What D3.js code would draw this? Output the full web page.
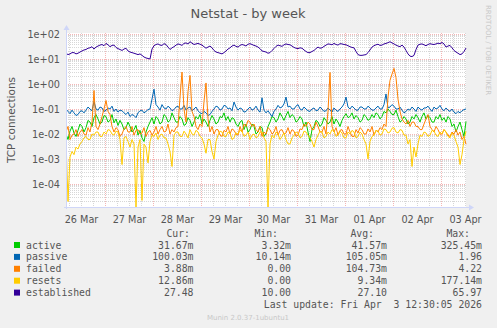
<!DOCTYPE html>
<html>
<head>
<meta charset="utf-8">
<script src="https://cdn.jsdelivr.net/npm/d3@7"></script>
<style>
  html, body { margin: 0; padding: 0; background: #f0f0f0; }
  svg { display: block; }
</style>
</head>
<body>
<svg id="chart" width="497" height="328"></svg>
<script>
// Netstat counters, one sample per hour over the week (per second rates)
const seriesNames  = ["active", "passive", "failed", "resets", "established"];
const seriesColors = ["#00cc00", "#0066b3", "#ff8000", "#ffcc00", "#330099"];

const active = [
  0.01,0.006,0.013,0.02,0.011,0.008,0.014,0.025,0.02,0.012,0.018,0.035,0.03,0.02,0.045,0.06,0.04,0.025,0.03,0.055,
  0.05,0.03,0.035,0.06,0.028,0.04,0.022,0.035,0.025,0.015,0.018,0.03,0.02,0.012,0.015,0.022,0.009,0.014,0.007,0.005,
  0.012,0.02,0.03,0.045,0.025,0.05,0.04,0.025,0.03,0.06,0.05,0.03,0.035,0.07,0.045,0.03,0.03,0.05,0.04,0.022,
  0.025,0.045,0.035,0.02,0.03,0.05,0.04,0.06,0.025,0.04,0.03,0.02,0.035,0.055,0.04,0.025,0.03,0.05,0.045,0.07,
  0.035,0.05,0.03,0.045,0.04,0.025,0.02,0.03,0.035,0.015,0.025,0.012,0.015,0.025,0.02,0.01,0.012,0.02,0.018,0.008,
  0.01,0.02,0.03,0.05,0.045,0.03,0.04,0.07,0.05,0.035,0.055,0.08,0.045,0.06,0.05,0.03,0.035,0.05,0.04,0.02,
  0.03,0.012,0.005,0.015,0.02,0.035,0.03,0.02,0.025,0.045,0.035,0.025,0.03,0.05,0.025,0.04,0.03,0.02,0.035,0.05,
  0.065,0.045,0.05,0.07,0.04,0.055,0.045,0.03,0.035,0.06,0.05,0.035,0.04,0.06,0.045,0.07,0.06,0.04,0.05,0.08,
  0.07,0.1,0.08,0.06,0.06,0.09,0.05,0.03,0.035,0.05,0.04,0.025,0.03,0.05,0.04,0.06,0.045,0.03,0.05,0.07,
  0.04,0.055,0.045,0.03,0.03,0.05,0.04,0.06,0.035,0.045,0.03,0.05,0.04,0.02,0.025,0.012,0.02,0.03,0.015,0.008,
  0.03167];

const passive = [
  0.1,0.08,0.065,0.09,0.07,0.055,0.06,0.08,0.085,0.07,0.09,0.12,0.1,0.085,0.2,0.1,0.09,0.12,0.11,0.08,
  0.09,0.11,0.1,0.13,0.08,0.1,0.075,0.09,0.085,0.07,0.06,0.075,0.05,0.06,0.055,0.045,0.07,0.085,0.09,0.07,
  0.08,0.095,0.1,0.25,0.62,0.15,0.12,0.09,0.15,0.11,0.1,0.13,0.11,0.085,0.095,0.12,0.13,0.1,0.1,0.14,
  0.09,0.11,0.12,0.085,0.1,0.12,0.085,0.07,0.065,0.08,0.07,0.055,0.06,0.08,0.1,0.13,0.12,0.09,0.1,0.14,
  0.13,0.1,0.11,0.085,0.19,0.12,0.09,0.11,0.1,0.075,0.08,0.1,0.12,0.09,0.1,0.13,0.09,0.075,0.28,0.09,
  0.07,0.085,0.065,0.05,0.08,0.1,0.14,0.11,0.12,0.16,0.3,0.12,0.13,0.1,0.1,0.13,0.15,0.1,0.09,0.12,
  0.1,0.085,0.08,0.1,0.11,0.085,0.09,0.12,0.1,0.08,0.085,0.11,0.09,0.075,0.11,0.09,0.08,0.1,0.12,0.16,
  0.3,0.12,0.1,0.13,0.11,0.09,0.09,0.12,0.12,0.1,0.1,0.13,0.11,0.09,0.09,0.11,0.13,0.1,0.1,0.15,
  0.4,0.11,0.12,0.15,0.13,0.1,0.1,0.12,0.09,0.07,0.08,0.1,0.09,0.12,0.1,0.08,0.12,0.1,0.09,0.11,
  0.11,0.13,0.1,0.08,0.12,0.1,0.11,0.14,0.1,0.085,0.11,0.09,0.08,0.1,0.075,0.065,0.08,0.07,0.085,0.095,
  0.10003];

const failed = [
  0.012,0.02,0.006,0.009,0.01,0.015,0.008,0.012,0.015,0.01,0.009,0.018,0.012,0.03,0.55,0.02,0.015,0.025,0.05,0.1,
  0.22,0.08,0.06,0.02,0.012,0.018,0.015,0.008,0.01,0.016,0.02,0.012,0.012,0.02,0.009,0.014,0.015,0.01,0.011,0.018,
  0.008,0.012,0.014,0.009,0.012,0.02,0.01,0.015,0.02,0.012,0.013,0.025,0.01,0.015,0.012,0.018,0.02,0.3,3.0,0.1,
  0.03,0.5,2.2,0.08,0.05,0.02,0.015,0.025,0.02,0.2,1.1,0.04,0.012,0.02,0.01,0.015,0.015,0.009,0.008,0.014,
  0.012,0.02,0.01,0.016,0.014,0.01,0.009,0.02,0.012,0.025,0.02,0.035,0.03,0.02,0.025,0.015,0.012,0.02,0.008,0.012,
  0.01,0.018,0.015,0.01,0.012,0.02,0.009,0.014,0.015,0.01,0.011,0.018,0.01,0.015,0.013,0.008,0.009,0.016,0.015,0.025,
  0.02,0.03,0.025,0.015,0.015,0.03,0.02,0.012,0.012,0.02,0.01,0.08,2.9,0.02,0.012,0.018,0.009,0.014,0.015,0.01,
  0.01,0.02,0.012,0.008,0.008,0.015,0.011,0.018,0.015,0.01,0.01,0.016,0.012,0.02,0.009,0.014,0.012,0.018,0.015,0.025,
  0.02,0.3,1.4,2.5,4.22,1.8,0.25,0.08,0.04,0.03,0.025,0.035,0.02,0.03,0.03,0.02,0.02,0.015,0.015,0.025,
  0.04,0.06,0.02,0.015,0.012,0.02,0.015,0.01,0.01,0.015,0.012,0.009,0.008,0.012,0.01,0.015,0.009,0.012,0.006,0.008,
  0.00388];

const resets = [
  0.006,0.00002,0.0012,0.002,0.0015,0.003,0.0025,0.004,0.005,0.007,0.008,0.006,0.006,0.01,0.009,0.012,0.012,0.008,0.008,0.012,
  0.01,0.015,0.014,0.01,0.009,0.013,0.012,0.006,0.0006,0.007,0.008,0.005,0.003,0.006,0.004,0,0.003,0.006,0.000022,0.004,
  0.003,0.0007,0.005,0.009,0.008,0.011,0.006,0.009,0.01,0.007,0.007,0.004,0.002,0.0005,0.009,0.012,0.012,0.008,0.008,0.013,
  0.01,0.007,0.015,0.01,0.009,0.014,0.012,0.008,0.007,0.004,0.0017,0.006,0.006,0.002,0.001,0.005,0.009,0.013,0.012,0.008,
  0.008,0.012,0.011,0.006,0.007,0.011,0.01,0.014,0.013,0.008,0.009,0.012,0.006,0.009,0.01,0.007,0.008,0.012,0.012,0.007,
  0.005,0,0.004,0.009,0.007,0.012,0.01,0.006,0.008,0.011,0.006,0.004,0.004,0.007,0.009,0.012,0.011,0.007,0.008,0.013,
  0.012,0.009,0.007,0.005,0.003,0.006,0.009,0.013,0.012,0.007,0.008,0.012,0.01,0.015,0.013,0.008,0.009,0.013,0.011,0.007,
  0.007,0.012,0.01,0.014,0.012,0.007,0.008,0.012,0.01,0.006,0.004,0.001,0.005,0.008,0.009,0.014,0.013,0.009,0.01,0.016,
  0.015,0.011,0.012,0.017,0.018,0.012,0.011,0.015,0.014,0.009,0.009,0.004,0.006,0.0005,0.003,0.0012,0.004,0.009,0.008,0.012,
  0.011,0.008,0.009,0.014,0.013,0.009,0.008,0.012,0.01,0.015,0.012,0.008,0.007,0.011,0.009,0.005,0.003,0.0006,0.0015,0.006,
  0.01286];

const established = [
  17,15,16,18,18,16,17,19,21,23,24,27,28,31,25,30,33,36,38,34,
  42,37,31,35,36,29,26,24,22,25,27,21,19,18,17,16,15,16,14,12,
  11,10.5,10,25,34,38,40,36,35,41,38,30,24,28,31,36,40,38,35,42,
  44,40,49,43,38,40,42,39,36,31,27,30,33,28,22,19,18,17,16,18,
  21,25,28,33,36,32,30,35,38,36,33,39,41,38,35,33,30,26,21,20,
  19,17,18,22,26,32,36,34,32,37,40,38,37,33,29,27,26,28,27,23,
  20,18,18,20,22,26,30,27,28,32,36,40,39,37,42,38,36,41,40,38,
  37,34,31,29,28,20,15,14,14,14.5,15,18,23,30,34,37,39,35,36,40,
  42,45,49,44,40,36,33,31,36,30,22,16,13,12.5,14,24,36,39,40,37,
  34,38,41,39,38,40,43,41,46,40,30,33,35,28,22,19,17,15,16,20,
  27.48];

const yTickValues = [1e-4, 1e-3, 1e-2, 1e-1, 1e0, 1e1, 1e2];
const yTickLabels = ["1e-04", "1e-03", "1e-02", "1e-01", "1e+00", "1e+01", "1e+02"];

const legendHeaders = ["Cur:", "Min:", "Avg:", "Max:"];
const legendCur = ["31.67m", "100.03m", "3.88m", "12.86m", "27.48"];
const legendMin = ["3.32m", "10.14m", "0.00", "0.00", "10.00"];
const legendAvg = ["41.57m", "105.05m", "104.73m", "9.34m", "27.10"];
const legendMax = ["325.45m", "1.96", "4.22", "177.14m", "65.97"];

const titleText = "Netstat - by week";
const yAxisTitle = "TCP connections";
const lastUpdate = "Last update: Fri Apr  3 12:30:05 2026";
const watermark = "RRDTOOL / TOBI OETIKER";
const version = "Munin 2.0.37-1ubuntu1";

// ---- layout ----
const W = 497, H = 328;
const plot = { left: 66, right: 466, top: 33, bottom: 207 };
const fontSans = "'DejaVu Sans', sans-serif";
const fontMono = "'DejaVu Sans Mono', monospace";
const textColor = "#555555";

const svg = d3.select("#chart");
svg.append("rect").attr("width", W).attr("height", H).attr("fill", "#f0f0f0");

// time axis: 200 hours ending at the last update
const tEnd = new Date(2026, 3, 3, 12, 30);
const stepHours = 1;
const tStart = d3.timeHour.offset(tEnd, -stepHours * (established.length - 1));
const x = d3.scaleTime().domain([tStart, tEnd]).range([plot.left, plot.right]);

const yMin = Math.pow(10, -4.92), yMax = Math.pow(10, 2.04);
const y = d3.scaleLog().domain([yMin, yMax]).range([plot.bottom, plot.top]).clamp(true);

// canvas
svg.append("rect")
  .attr("x", plot.left).attr("y", plot.top)
  .attr("width", plot.right - plot.left).attr("height", plot.bottom - plot.top)
  .attr("fill", "#ffffff");

// grid
const grid = svg.append("g").attr("shape-rendering", "crispEdges");
const minorColor = "rgba(175,175,175,0.5)";
const majorColor = "rgba(235,110,110,0.5)";

const minorY = [];
for (let e = -5; e <= 2; e++) for (let k = 2; k <= 9; k++) {
  const v = k * Math.pow(10, e);
  if (v > yMin && v < yMax) minorY.push(v);
}
grid.selectAll("line.hmin").data(minorY).join("line")
  .attr("x1", plot.left).attr("x2", plot.right)
  .attr("y1", d => Math.round(y(d)) + 0.5).attr("y2", d => Math.round(y(d)) + 0.5)
  .attr("stroke", minorColor).attr("stroke-dasharray", "1,1");

const minorX = d3.timeHour.every(6).range(tStart, tEnd).filter(d => d.getHours() !== 0);
grid.selectAll("line.vmin").data(minorX).join("line")
  .attr("x1", d => Math.round(x(d)) + 0.5).attr("x2", d => Math.round(x(d)) + 0.5)
  .attr("y1", plot.top).attr("y2", plot.bottom)
  .attr("stroke", minorColor).attr("stroke-dasharray", "1,1");

grid.selectAll("line.hmaj").data(yTickValues).join("line")
  .attr("x1", plot.left).attr("x2", plot.right)
  .attr("y1", d => Math.round(y(d)) + 0.5).attr("y2", d => Math.round(y(d)) + 0.5)
  .attr("stroke", majorColor).attr("stroke-dasharray", "1,1");

const days = d3.timeDay.range(tStart, tEnd);
grid.selectAll("line.vmaj").data(days).join("line")
  .attr("x1", d => Math.round(x(d)) + 0.5).attr("x2", d => Math.round(x(d)) + 0.5)
  .attr("y1", plot.top).attr("y2", plot.bottom)
  .attr("stroke", majorColor).attr("stroke-dasharray", "1,1");

// series lines
svg.append("clipPath").attr("id", "plotclip").append("rect")
  .attr("x", plot.left).attr("y", plot.top)
  .attr("width", plot.right - plot.left + 1).attr("height", plot.bottom - plot.top + 1);

const seriesData = [active, passive, failed, resets, established];
const line = d3.line()
  .x((d, i) => x(d3.timeHour.offset(tStart, i * stepHours)))
  .y(d => y(Math.max(d, yMin)));

svg.append("g").attr("clip-path", "url(#plotclip)")
  .selectAll("path").data(seriesData).join("path")
  .attr("d", d => line(d))
  .attr("fill", "none")
  .attr("stroke", (d, i) => seriesColors[i])
  .attr("stroke-width", 1)
  .attr("stroke-linejoin", "round");

// axes
const axisColor = "#cfd6f8";
const yAxis = d3.axisLeft(y).tickValues(yTickValues)
  .tickFormat((d, i) => yTickLabels[i]).tickSize(0).tickPadding(6);
const gy = svg.append("g").attr("transform", `translate(${plot.left},0)`).call(yAxis);
gy.select(".domain").remove();
gy.selectAll("text").attr("font-family", fontSans).attr("font-size", 9.7).attr("fill", textColor);

// day labels sit at noon of each day
const dayNoons = d3.timeDay.range(d3.timeDay.floor(tStart), tEnd).map(d => d3.timeHour.offset(d, 12))
  .filter(d => d >= tStart && d <= tEnd);
const xAxis = d3.axisBottom(x).tickValues(dayNoons)
  .tickFormat(d3.timeFormat("%d %b")).tickSize(0).tickPadding(9);
const gx = svg.append("g").attr("transform", `translate(0,${plot.bottom})`).call(xAxis);
gx.select(".domain").remove();
gx.selectAll("text").attr("font-family", fontSans).attr("font-size", 9.7).attr("fill", textColor);

// axis lines with arrows
const ax = svg.append("g").attr("shape-rendering", "crispEdges");
ax.append("line").attr("x1", plot.left - 2).attr("x2", plot.right + 4)
  .attr("y1", plot.bottom + 0.5).attr("y2", plot.bottom + 0.5).attr("stroke", axisColor);
ax.append("line").attr("x1", plot.left + 0.5).attr("x2", plot.left + 0.5)
  .attr("y1", plot.bottom + 2).attr("y2", plot.top - 4).attr("stroke", axisColor);
svg.append("path")
  .attr("d", `M${plot.right + 3},${plot.bottom - 2.5}L${plot.right + 8},${plot.bottom + 0.5}L${plot.right + 3},${plot.bottom + 3.5}Z`)
  .attr("fill", axisColor);
svg.append("path")
  .attr("d", `M${plot.left - 2.5},${plot.top - 3}L${plot.left + 0.5},${plot.top - 8}L${plot.left + 3.5},${plot.top - 3}Z`)
  .attr("fill", axisColor);

// titles
svg.append("text").attr("x", 248).attr("y", 18).attr("text-anchor", "middle")
  .attr("font-family", fontSans).attr("font-size", 13).attr("fill", textColor).text(titleText);
svg.append("text").attr("transform", `translate(15,${(plot.top + plot.bottom) / 2}) rotate(-90)`)
  .attr("text-anchor", "middle")
  .attr("font-family", fontSans).attr("font-size", 10.5).attr("fill", textColor).text(yAxisTitle);
svg.append("text").attr("transform", "translate(486,5) rotate(90)")
  .attr("font-family", fontSans).attr("font-size", 7).attr("fill", "#c8c8c8").text(watermark);

// legend
const legend = svg.append("g").attr("font-family", fontMono).attr("font-size", 9.8).attr("fill", textColor);
const headerEnds = [190, 278, 374, 470];
legend.selectAll("text.hdr").data(legendHeaders).join("text")
  .attr("x", (d, i) => headerEnds[i]).attr("y", 236.5).attr("text-anchor", "end").text(d => d);

const rowY = i => 248.5 + i * 11.9;
legend.selectAll("rect.sw").data(seriesNames).join("rect")
  .attr("x", 14).attr("y", (d, i) => rowY(i) - 6.5).attr("width", 6).attr("height", 6)
  .attr("fill", (d, i) => seriesColors[i]);
legend.selectAll("text.name").data(seriesNames).join("text")
  .attr("x", 26).attr("y", (d, i) => rowY(i)).text(d => d);

const columns = [legendCur, legendMin, legendAvg, legendMax];
const valueEnds = [193.5, 291, 387, 482];
columns.forEach((col, c) => {
  legend.selectAll(null).data(col).join("text")
    .attr("x", valueEnds[c]).attr("y", (d, i) => rowY(i)).attr("text-anchor", "end").text(d => d);
});
legend.append("text").attr("x", 482).attr("y", 307.5).attr("text-anchor", "end")
  .style("white-space", "pre").text(lastUpdate);

svg.append("text").attr("x", 248).attr("y", 320).attr("text-anchor", "middle")
  .attr("font-family", fontSans).attr("font-size", 7).attr("fill", "#c8c8c8").text(version);
</script>
</body>
</html>
